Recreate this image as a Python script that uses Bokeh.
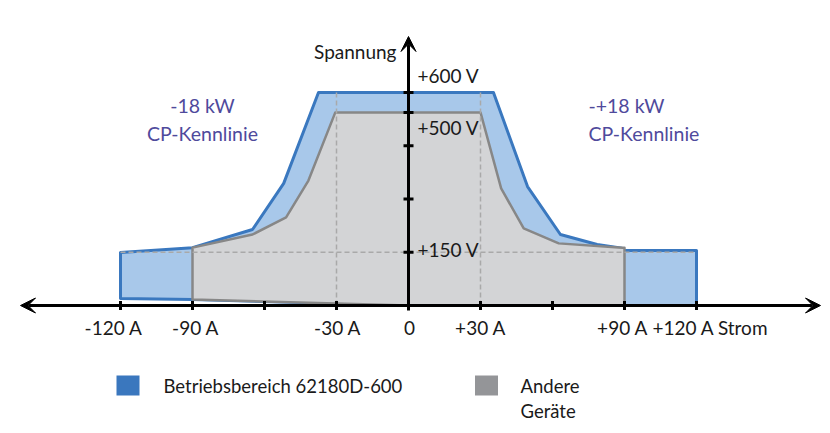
import math
from bokeh.plotting import figure
from bokeh.models import Range1d, Arrow, VeeHead
from bokeh.core.properties import value
from bokeh.embed import file_html
from bokeh.resources import INLINE

# ---------------- data ----------------
# Betriebsbereich 62180D-600 (current in A, voltage in V; schematic)
blue_current = [-120, -120, -90, -65, -52, -37.5, 35.4, 49.6, 63.3, 78.6, 89, 90, 120, 120, 0, -90]
blue_voltage = [20, 149, 163, 214, 344, 600, 600, 335, 200, 172, 161, 155, 155, 0, 0, 17]
# Andere Geräte
gray_current = [-90, -90, -65, -51, -41.7, -30.5, 30, 38.6, 48, 62.6, 89, 90, 90, 0]
gray_voltage = [17, 163, 200, 248, 352, 544, 544, 330, 217, 175, 163, 163, 0, 0]

x_ticks = [-120, -90, -60, -30, 30, 60, 90, 120]
x_label_pos = [-120, -90, -30, 0, 30, 90, 120]
x_labels = ["-120 A", "-90 A", "-30 A", "0", "+30 A", "+90 A", "+120 A Strom"]
y_ticks = [150, 300, 450, 544, 600]
y_label_pos = [150, 544, 600]
y_labels = ["+150 V", "+500 V", "+600 V"]
guide_current = [-30, 30]
guide_voltage_top = 600
guide_voltage = 150
guide_current_span = [-120, 120]

left_note = ["-18 kW", "CP-Kennlinie"]
right_note = ["-+18 kW", "CP-Kennlinie"]
legend_labels = ["Betriebsbereich 62180D-600", "Andere", "Geräte"]

# ---------------- layout ----------------
W, H = 822, 425
PX_PER_A = 2.4
PX_PER_V = 0.355
X0 = 408   # px of 0 A
Y0 = 305   # px of 0 V


def dx(px):
    return (px - X0) / PX_PER_A


def dy(py):
    return (Y0 - py) / PX_PER_V


FONT = value("Lato")
FS = "19px"
FS_NOTE = "19.5px"
FS_LEG = "18.5px"
BLUE_FILL = "#a8c8ea"
BLUE_LINE = "#3a78bf"
GRAY_FILL = "#d3d4d6"
GRAY_LINE = "#878787"
PURPLE = "#4f4a9c"
TXT = "#1a1a1a"

p = figure(width=W, height=H, output_backend="svg", toolbar_location=None,
           x_range=Range1d(-X0 / PX_PER_A, (W - X0) / PX_PER_A),
           y_range=Range1d((Y0 - H) / PX_PER_V, Y0 / PX_PER_V),
           x_axis_type=None, y_axis_type=None, min_border=0,
           outline_line_color=None, background_fill_color="white",
           border_fill_color="white")
p.grid.visible = False

# areas
p.patch(blue_current, blue_voltage, fill_color=BLUE_FILL, line_color=BLUE_LINE,
        line_width=3, line_join="round")
p.patch(gray_current, gray_voltage, fill_color=GRAY_FILL, line_color=GRAY_LINE,
        line_width=2.5, line_join="round")

# dashed guides
p.segment(x0=guide_current, y0=[0, 0], x1=guide_current,
          y1=[guide_voltage_top] * 2, line_color="#a9a9a9", line_width=1.5,
          line_dash="5 3")
p.segment(x0=[guide_current_span[0]], y0=[guide_voltage], x1=[guide_current_span[1]],
          y1=[guide_voltage], line_color="#a9a9a9", line_width=1.5, line_dash="5 3")

# axes with arrows
p.add_layout(Arrow(start=VeeHead(size=15, fill_color="black", line_color="black"),
                   end=VeeHead(size=15, fill_color="black", line_color="black"),
                   x_start=dx(20), y_start=0, x_end=dx(820), y_end=0,
                   line_width=3, line_color="black"))
p.add_layout(Arrow(end=VeeHead(size=15, fill_color="black", line_color="black"),
                   x_start=0, y_start=dy(310), x_end=0, y_end=dy(36),
                   line_width=3, line_color="black"))

# ticks
p.scatter(x_ticks, [0] * len(x_ticks), marker="dash", size=9, angle=math.pi / 2,
          line_color="black", line_width=3)
p.scatter([0] * len(y_ticks), y_ticks, marker="dash", size=10,
          line_color="black", line_width=3)

# x tick labels
x_off = [-7, 3, 1, 1, 0, -2, -44]
x_align = ["center"] * 6 + ["left"]
p.text(x=x_label_pos, y=[0] * len(x_label_pos), text=x_labels, x_offset=x_off,
       y_offset=22, text_align=x_align, text_baseline="middle",
       text_font=FONT, text_font_size=FS, text_color=TXT)

# y tick labels
y_off = [-3, 15, -17]
p.text(x=[0] * 3, y=y_label_pos, text=y_labels, x_offset=9, y_offset=y_off,
       text_align="left", text_baseline="middle",
       text_font=FONT, text_font_size=FS, text_color=TXT)

# axis titles
p.text(x=[0], y=[dy(51)], text=["Spannung"], x_offset=-12, text_align="right",
       text_baseline="middle", text_font=FONT, text_font_size=FS, text_color=TXT)

# CP notes
p.text(x=[dx(202)] * 2, y=[dy(105), dy(133)], text=left_note, text_align="center",
       text_baseline="middle", text_font=FONT, text_font_size=FS_NOTE, text_color=PURPLE)
p.text(x=[dx(588)] * 2, y=[dy(105), dy(133)], text=right_note, text_align="left",
       text_baseline="middle", text_font=FONT, text_font_size=FS_NOTE, text_color=PURPLE)

# legend
p.rect(x=[dx(127.5), dx(486)], y=[dy(385)] * 2, width=23, height=20,
       width_units="screen", height_units="screen",
       fill_color=["#3a77be", "#949598"], line_color=None)
p.text(x=[dx(163), dx(520), dx(520)], y=[dy(385), dy(385), dy(410)],
       text=legend_labels, text_align="left", text_baseline="middle",
       text_font=FONT, text_font_size=FS_LEG, text_color=TXT)

open("out.html", "w").write(file_html(p, INLINE))
